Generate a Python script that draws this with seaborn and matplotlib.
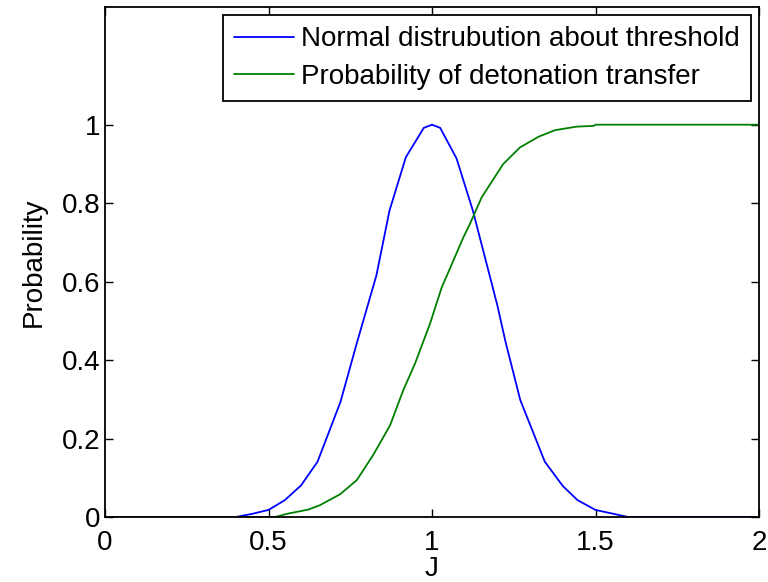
import matplotlib
matplotlib.use("Agg")
import matplotlib.pyplot as plt
import seaborn as sns
import pandas as pd

# Normal distribution about threshold
normal_x = [0.0, 0.40, 0.45, 0.50, 0.55, 0.60, 0.65, 0.72, 0.77, 0.83, 0.87, 0.92,
            0.975, 1.0, 1.025, 1.075, 1.125, 1.20, 1.225, 1.27, 1.345, 1.40, 1.445,
            1.50, 1.60, 2.0]
normal_y = [0.0, 0.0, 0.008, 0.018, 0.043, 0.081, 0.141, 0.293, 0.443, 0.616, 0.781,
            0.917, 0.992, 1.0, 0.992, 0.914, 0.781, 0.539, 0.446, 0.298, 0.141, 0.079,
            0.043, 0.018, 0.0, 0.0]

# Probability of detonation transfer
prob_x = [0.0, 0.52, 0.556, 0.622, 0.657, 0.719, 0.770, 0.820, 0.872, 0.912, 0.948,
          0.994, 1.030, 1.050, 1.096, 1.116, 1.152, 1.218, 1.269, 1.325, 1.376, 1.442,
          1.495, 1.50, 2.0]
prob_y = [0.0, 0.0, 0.008, 0.019, 0.030, 0.058, 0.094, 0.158, 0.234, 0.323, 0.391,
          0.493, 0.586, 0.624, 0.713, 0.747, 0.815, 0.900, 0.942, 0.969, 0.986, 0.995,
          0.997, 1.0, 1.0]

labels = ["Normal distrubution about threshold", "Probability of detonation transfer"]
xticks = [0, 0.5, 1, 1.5, 2]
yticks = [0, 0.2, 0.4, 0.6, 0.8, 1]

df = pd.concat([
    pd.DataFrame({"J": normal_x, "Probability": normal_y, "series": labels[0]}),
    pd.DataFrame({"J": prob_x, "Probability": prob_y, "series": labels[1]}),
], ignore_index=True)

sns.set_style("white")
plt.rcParams["font.family"] = ["Liberation Sans", "DejaVu Sans"]
plt.rcParams["text.color"] = "black"
plt.rcParams["axes.labelcolor"] = "black"

FS = 20

fig = plt.figure(figsize=(7.68, 5.82), dpi=100)
ax = fig.add_axes([105/768, 65/582, 654/768, 510/582])

sns.lineplot(data=df, x="J", y="Probability", hue="series",
             palette={labels[0]: "#0000ff", labels[1]: "#008000"},
             linewidth=1.3, sort=False, estimator=None, ax=ax)

ax.set_xlim(0, 2)
ax.set_ylim(0, 1.3)
ax.set_xticks(xticks)
ax.set_xticklabels([f"{t:g}" for t in xticks])
ax.set_yticks(yticks)
ax.set_yticklabels([f"{t:g}" for t in yticks])
ax.tick_params(direction="in", length=6, width=1, colors="black", labelcolor="black",
               labelsize=FS, top=True, right=True, bottom=True, left=True)
ax.tick_params(axis="x", pad=9)
ax.tick_params(axis="y", pad=3)
for s in ax.spines.values():
    s.set_visible(True)
    s.set_color("black")
    s.set_linewidth(1.3)

ax.set_xlabel("J", fontsize=FS, labelpad=0, color="black")
ax.set_ylabel("Probability", fontsize=FS, labelpad=11, color="black")

leg = ax.legend(loc="upper right", fontsize=FS, frameon=True, fancybox=False,
                edgecolor="black", framealpha=1, borderaxespad=0.3,
                handlelength=2.15, handletextpad=0.25, borderpad=0.4,
                labelspacing=0.4)
leg.get_frame().set_linewidth(1.3)
for t in leg.get_texts():
    t.set_color("black")

fig.savefig("out.png", dpi=100)
